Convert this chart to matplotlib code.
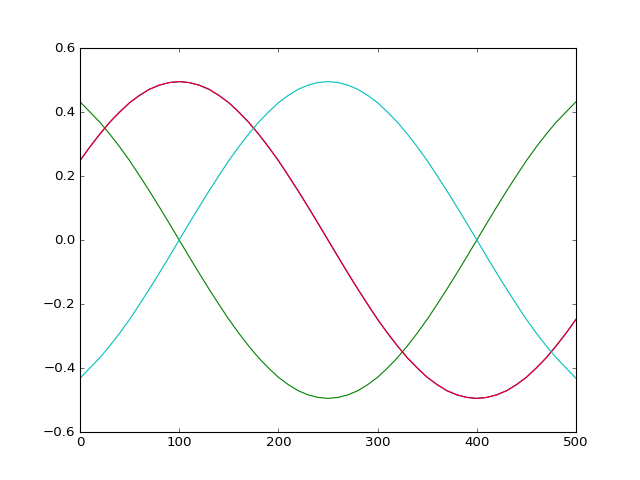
import matplotlib
matplotlib.use("Agg")
import matplotlib.pyplot as plt

plt.style.use("classic")

x = list(range(0, 501, 10))
red = [0.248, 0.291, 0.331, 0.368, 0.400, 0.429, 0.452, 0.471, 0.484, 0.492,
       0.495, 0.492, 0.484, 0.471, 0.452, 0.429, 0.400, 0.368, 0.331, 0.291,
       0.248, 0.201, 0.153, 0.103, 0.052, 0.0, -0.052, -0.103, -0.153, -0.201,
       -0.248, -0.291, -0.331, -0.368, -0.400, -0.429, -0.452, -0.471, -0.484, -0.492,
       -0.495, -0.492, -0.484, -0.471, -0.452, -0.429, -0.400, -0.368, -0.331, -0.291,
       -0.248]
green = [0.432, 0.400, 0.368, 0.331, 0.291, 0.248, 0.201, 0.153, 0.103, 0.052,
         0.0, -0.052, -0.103, -0.153, -0.201, -0.248, -0.291, -0.331, -0.368, -0.400,
         -0.429, -0.452, -0.471, -0.484, -0.492, -0.495, -0.492, -0.484, -0.471, -0.452,
         -0.429, -0.400, -0.368, -0.331, -0.291, -0.248, -0.201, -0.153, -0.103, -0.052,
         0.0, 0.052, 0.103, 0.153, 0.201, 0.248, 0.291, 0.331, 0.368, 0.400,
         0.432]
cyan = [-v for v in green]

fig = plt.figure(figsize=(8, 6), dpi=80)
ax = fig.add_subplot(111)
ax.plot(x, red, color="b")
ax.plot(x, green, color="g")
ax.plot(x, red, color="r")
ax.plot(x, cyan, color="c")
ax.set_xlim(0, 500)
ax.set_ylim(-0.6, 0.6)
fig.savefig("out.png", dpi=80)
